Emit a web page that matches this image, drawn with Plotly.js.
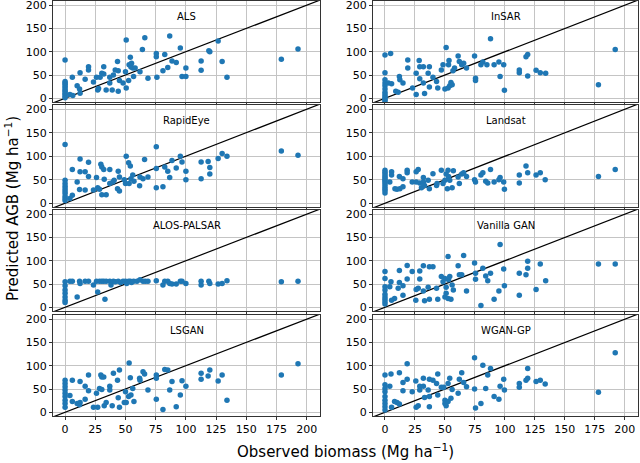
<!DOCTYPE html>
<html>
<head>
<meta charset="utf-8">
<script src="https://cdn.plot.ly/plotly-3.0.1.min.js"></script>
<style>
  html, body { margin: 0; padding: 0; background: #fff; }
  #chart { width: 640px; height: 463px; }
</style>
</head>
<body>
<div id="chart"></div>
<script>
// observed (x) vs predicted (y) biomass
const alsX = [0,0,0,0,0,0,0,0,0,0,0,0,
  4,6,6.4,10,12,12.4,12.4,16.6,19.4,19.4, 23.5,26,27,27.7,29,30.4,32,32,34,37,
  37,39,40,41.5,43.4,44,44,45,48,50, 50.6,50.6,52.6,53,54,54.5,55,56,56.7,58,
  62,64,66,68.6,75.5,75.5,76,81,82.5,85, 86.6,88.5,92,95.4,96.8,100,100,112.6,112.6,119,
  119.8,126.7,130,134,179,192.8];
const alsY = [82,36,33,30,26,22,18,15,11,8,4,1,
  8,45,6,27,20,55,11,41,68,61, 35,45,18,21,45,54,68,52,18,45,
  33,18,50,61,79,15,59,38,33,57, 125,22,38,72,88,67,75,65,47,65,
  57,105,130,43,96,89,45,59,94,66, 134,80,77,108,47,65,47,80,60,102,
  100,123,79,45,84,106];

const insarX = [0,0,0,0,0,0,0,0,0,0,0,0,
  2.8,4.7,5.5,9,11,12,12.4,15,19,19, 23,26,26,28.5,29,29,32,32,33,36,
  37,37,40,43,44,47,48.4,50,51,52.6, 53,53.4,54,55,56,56.7,58,61,62,64,
  65.6,68,74.7,75.5,75.5,80,81.6,85,88,91, 95,96,99,99.6,112,112,117.6,119,119,126,
  129.5,134,178,192];
const insarY = [93,55,40,33,27,20,13,8,4,0,-3,-6,
  33,96,31,15,13,47,40,33,82,65, 22,54,8,81,68,42,68,33,10,54,
  68,24,45,36,22,61,72,20,109,22, 72,81,27,34,29,59,65,91,79,72,
  75,65,91,43,38,72,78,72,128,72, 78,47,72,17,61,55,89,94,48,60,
  55,54,29,105];

const rapideyeX = [0,0,0,0,0,0,0,0,0,0,
  4,6,6,10,12,12.4,12.4,16.6,16.6,19.4, 19.4,23.5,26,27,28.5,29.6,30.4,30.4,32,32.4,
  34,37,37,39.6,40.6,43.4,44,45,45,49, 50,50.6,52.6,53,54,54.5,56,57,61.7,62,
  64.5,65.8,68.6,75.5,75.5,75.5,81,82.5,85,86.6, 88.5,92,95.4,96.8,100,100,112.6,112.6,118.4,119.8,
  119.8,126.7,130,134,179,192.8];
const rapideyeY = [125,49,42,36,31,26,21,15,10,6,
  10,17,72,45,29,94,67,67,28,87, 57,28,55,33,30,83,77,18,72,51,
  18,72,42,45,49,31,68,26,56,50, 42,100,86,42,79,52,60,47,37,56,
  52,93,56,120,33,74,35,77,68,55, 91,75,100,88,68,50,88,52,89,76,
  62,95,106,100,111,102];

const landsatX = [0,0,0,0,0,0,0,0,0,0,0,0,0,
  4,5.5,5.5,8.3,10,12,12.4,15,15,18.5, 18.5,22.7,26,26,27.7,29,30.4,32,32,33,
  36,37,40,43,43.4,47,48.4,50,51,52, 52.6,53,54,56,57,61,62,64,65.6,68,
  74.7,75.5,80,81.6,84,85.7,88,91,95,96, 99,99.6,112,112,117.6,119,126,129.5,133.6,178,
  192];
const landsatY = [70,66,62,58,55,51,48,44,40,35,31,27,22,
  45,67,60,31,30,57,31,35,52,70, 65,45,45,67,72,43,33,55,45,38,
  49,31,63,38,42,70,42,49,62,31, 70,57,49,33,69,56,42,62,65,57,
  50,45,60,65,47,43,72,45,50,55, 45,30,60,43,79,65,60,65,50,57,
  72];

const palsarX = [0,0,0,0,0,0,0,
  4,6,10,12,12.4,16.6,19.4,23.5,26,27, 28.5,30.4,32,33,34,37,38,40,41.5,44,
  46,48,50,51,52.6,54,55,56.7,59.5,62, 64.5,66.4,68.6,75.5,81,82.5,85,86.6,88.5,92,
  95.4,96.8,100,112.6,112.6,119,119.8,126.7,130,134, 179,192.8];
const palsarY = [55,46,37,30,22,15,10,
  56,56,22,56,51,56,56,48,56,33, 56,56,56,17,56,56,48,56,55,56,
  53,56,56,51,56,56,53,56,56,59, 56,56,56,57,48,56,56,51,50,50,
  56,56,51,56,48,56,51,50,51,57, 55,56];

const vanillaX = [0,0,0,0,0,0,0,0,0,
  4,5,5.5,8,11,12,12,15,15,18.5, 18.5,22.7,25.7,26,27.7,29,29,32,32,33,
  36,37,40,37,43,44,47,48.4,50,50, 51,51,52.6,52.6,53,54,55,56,57,61,
  62,64,65.6,68,74.7,75.5,75.5,80,81.6,84, 85.7,88,91,95,96,99,99.6,112,112,117.6,
  119,119,126,129.5,134,178,192];
const vanillaY = [77,62,44,37,28,22,17,12,7,
  44,55,15,19,41,53,79,46,26,90, 61,77,15,38,41,78,61,89,35,14,
  43,87,87,17,41,17,66,55,62,22, 43,30,109,19,59,66,17,48,37,89,
  70,70,111,35,95,73,60,4,84,67, 57,73,17,35,135,82,46,73,26,70,
  99,84,38,93,57,93,93];

const lsganX = [0,0,0,0,0,0,0,0,0,
  4,6,6,10,12,12.4,12.4,16.6,16.6,19.4, 19.4,23.5,26,27,28.5,29.6,30.4,30.4,32,32.4,
  34,37,37,39,40,43.4,44,45,45,49, 50,50.6,52.6,53,54,54.5,56,57,61.7,62,
  64.5,65.8,68.6,75.5,75.5,75.5,81,82.5,85,86.6, 88.5,92,95.4,96.8,100,112.6,112.6,118.4,119.8,126.7,
  130,134,179,192.8];
const lsganY = [69,62,55,48,41,34,26,19,11,
  36,69,23,19,16,66,21,56,28,80, 46,11,41,11,51,80,76,49,76,14,
  21,56,48,14,84,69,31,91,11,21, 44,21,34,106,74,37,51,23,73,69,
  87,82,48,80,73,28,6,92,91,48, 66,12,37,68,56,71,84,78,91,67,
  80,26,80,104];

const wganX = [0,0,0,0,0,0,0,0,0,
  4,5,5.5,8,10,12,12,15,15,18.5, 18.5,22.7,25.7,26,27.7,29,29,32,32,33,
  36,37,37,37,40,43,44,44,47,49, 50,50,51,52.6,52.6,54,55,56,61,62,
  64,65.6,68,74.7,74.7,75.5,80,81.6,84,85.7, 88,91,95,96,99,99.6,112,112,117.6,119,
  119,126,129.5,133.6,178,192];
const wganY = [80,59,51,44,34,26,19,12,5,
  56,82,11,23,21,18,85,46,64,104, 71,44,67,11,14,56,48,73,56,32,
  48,71,12,34,69,62,82,37,54,54, 26,19,14,62,23,73,30,49,41,71,
  85,64,55,117,50,9,19,101,51,80, 94,34,28,56,71,48,62,54,69,94,
  73,66,69,61,43,128];

// panels in reading order: row by row, left then right
const panelNames = ['ALS', 'InSAR', 'RapidEye', 'Landsat', 'ALOS-PALSAR', 'Vanilla GAN', 'LSGAN', 'WGAN-GP'];
const panelX = [alsX, insarX, rapideyeX, landsatX, palsarX, vanillaX, lsganX, wganX];
const panelY = [alsY, insarY, rapideyeY, landsatY, palsarY, vanillaY, lsganY, wganY];

const xTicks = [0, 25, 50, 75, 100, 125, 150, 175, 200];
const yTicks = [0, 50, 100, 150, 200];
const identityLine = [-20, 220];

const W = 640, H = 463;
const colPx = [[53, 320], [373, 638]];
const rowPx = [[1, 102], [105, 207], [210, 311], [315, 416]];

const font = 'DejaVu Sans, sans-serif';
const traces = [];
const layout = {
  width: W,
  height: H,
  margin: { l: 0, r: 0, t: 0, b: 0 },
  paper_bgcolor: '#fff',
  plot_bgcolor: '#fff',
  showlegend: false,
  font: { family: font, size: 11, color: '#000' },
  annotations: []
};

panelNames.forEach((name, i) => {
  const n = i + 1;
  const row = Math.floor(i / 2), col = i % 2;
  const xr = n === 1 ? 'x' : 'x' + n;
  const yr = n === 1 ? 'y' : 'y' + n;

  traces.push({
    type: 'scatter', mode: 'lines',
    x: identityLine, y: identityLine,
    xaxis: xr, yaxis: yr,
    line: { color: '#000', width: 1.2 },
    hoverinfo: 'skip'
  });
  traces.push({
    type: 'scatter', mode: 'markers',
    x: panelX[i], y: panelY[i],
    xaxis: xr, yaxis: yr,
    marker: { color: '#1f77b4', size: 5.5, line: { width: 0 } },
    name: name
  });

  const common = {
    showgrid: true, gridcolor: '#c4c4c4', gridwidth: 1,
    zeroline: false,
    showline: true, mirror: true, linecolor: '#333', linewidth: 1,
    ticks: 'outside', ticklen: 3, tickcolor: '#333',
    ticklabeloverflow: 'allow',
    tickfont: { family: font, size: 11, color: '#000' }
  };
  layout[n === 1 ? 'xaxis' : 'xaxis' + n] = Object.assign({}, common, {
    domain: [colPx[col][0] / W, colPx[col][1] / W],
    anchor: yr,
    range: [-10, 211],
    tickvals: xTicks,
    showticklabels: row === 3
  });
  layout[n === 1 ? 'yaxis' : 'yaxis' + n] = Object.assign({}, common, {
    domain: [1 - rowPx[row][1] / H, 1 - rowPx[row][0] / H],
    anchor: xr,
    range: [-8, 209],
    tickvals: yTicks
  });

  layout.annotations.push({
    text: name, showarrow: false,
    xref: xr + ' domain', yref: yr + ' domain',
    x: 0.5, y: 0.85, xanchor: 'center', yanchor: 'middle',
    font: { family: font, size: 10, color: '#000' }
  });
});

layout.annotations.push({
  text: 'Observed biomass (Mg ha<sup>\u22121</sup>)', showarrow: false,
  xref: 'paper', yref: 'paper',
  x: 345 / W, y: 1 - 451 / H, xanchor: 'center', yanchor: 'middle',
  font: { family: font, size: 15, color: '#000' }
});
layout.annotations.push({
  text: 'Predicted AGB (Mg ha<sup>\u22121</sup>)', showarrow: false,
  xref: 'paper', yref: 'paper', textangle: -90,
  x: 12 / W, y: 1 - 209 / H, xanchor: 'center', yanchor: 'middle',
  font: { family: font, size: 15, color: '#000' }
});

Plotly.newPlot('chart', traces, layout, { displayModeBar: false, staticPlot: true });
</script>
</body>
</html>
